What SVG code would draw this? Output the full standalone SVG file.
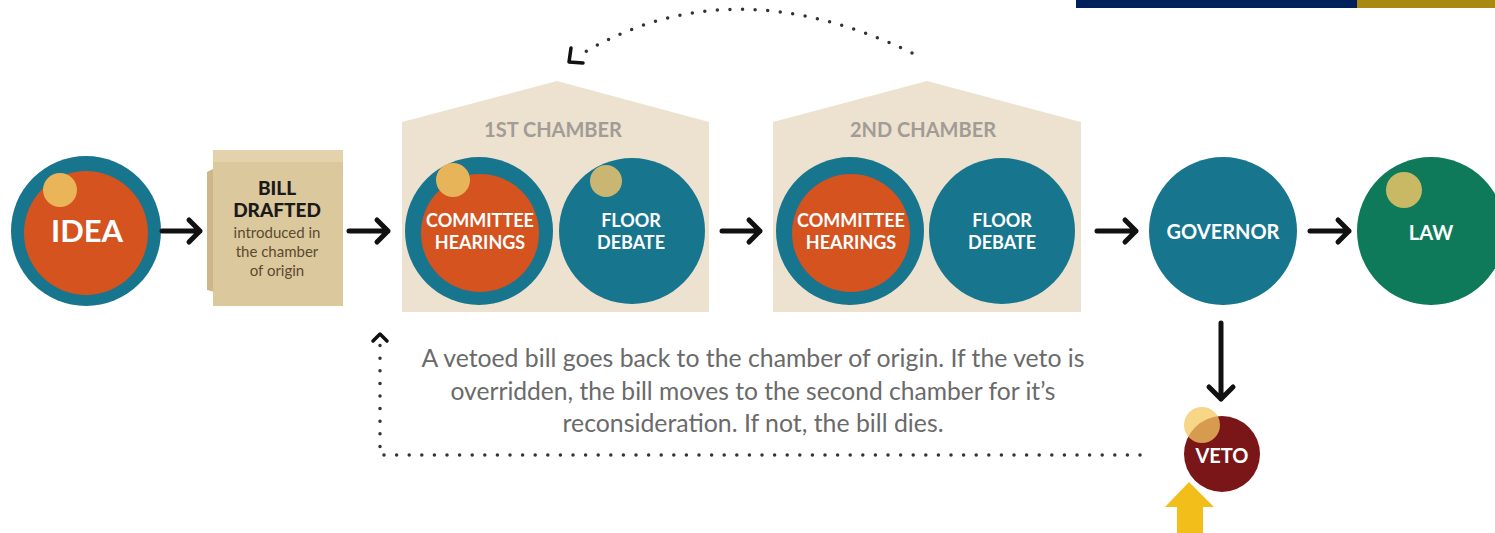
<svg xmlns="http://www.w3.org/2000/svg" width="1495" height="533" viewBox="0 0 1495 533">
<style>
.teal{fill:#17758e}
.orange{fill:#d4531f}
.lbl{font-family:Lato,'Open Sans','Liberation Sans',sans-serif;font-weight:700;fill:#ffffff;text-anchor:middle}
.house{fill:#ece2cf}
.hlbl{font-family:Lato,'Open Sans','Liberation Sans',sans-serif;font-weight:700;fill:#a19c95;font-size:20px;text-anchor:middle}
.arrow{fill:none;stroke:#111;stroke-width:5;stroke-linecap:round;stroke-linejoin:round}
.dots{fill:none;stroke:#333;stroke-width:3.5;stroke-linecap:round;stroke-dasharray:0 12.6}
.para{font-family:Lato,'Open Sans',sans-serif;font-size:25px;fill:#6a6a6a;text-anchor:middle}
.bsm{font-family:Lato,'Open Sans',sans-serif;font-size:15px;fill:#5a4a30;text-anchor:middle}
.bbig{font-family:Lato,'Open Sans',sans-serif;font-weight:900;font-size:19px;fill:#1a1a1a;text-anchor:middle}
</style>
<rect width="1495" height="533" fill="#ffffff"/>
<rect x="1076" y="0" width="281" height="8" fill="#00205b"/>
<rect x="1357" y="0" width="138" height="8" fill="#a88a10"/>

<g id="idea">
<circle cx="86" cy="231" r="75" class="teal"/>
<circle cx="86" cy="233" r="62" class="orange"/>
<circle cx="60" cy="190" r="17" fill="#eab458"/>
<text x="87" y="242" class="lbl" font-size="31">IDEA</text>
</g>

<g id="bill">
<path d="M207,172 L215,168 L215,292 L207,290 Z" fill="#cdb688"/>
<rect x="213" y="150" width="130" height="156" fill="#dcc89d"/>
<rect x="213" y="150" width="130" height="12" fill="#e3d2ab"/>
<text x="277" y="195" class="bbig">BILL</text>
<text x="277" y="217" class="bbig">DRAFTED</text>
<text x="277" y="238" class="bsm">introduced in</text>
<text x="277" y="257" class="bsm">the chamber</text>
<text x="277" y="276" class="bsm">of origin</text>
</g>

<g id="chamber1">
<polygon class="house" points="402,122 557,81 709,122 709,312 402,312"/>
<text x="553" y="137" class="hlbl">1ST CHAMBER</text>
</g>
<g id="committee1">
<circle cx="479" cy="231" r="74" class="teal"/>
<circle cx="480" cy="233" r="59" class="orange"/>
<circle cx="453" cy="180" r="17" fill="#e8b45a"/>
<text x="480" y="227" class="lbl" font-size="18">COMMITTEE</text>
<text x="480" y="249" class="lbl" font-size="18">HEARINGS</text>
</g>
<g id="floor1">
<circle cx="632" cy="231" r="73" class="teal"/>
<circle cx="606" cy="181" r="16" fill="#c8b672"/>
<text x="631" y="227" class="lbl" font-size="18">FLOOR</text>
<text x="631" y="249" class="lbl" font-size="18">DEBATE</text>
</g>

<g id="chamber2">
<polygon class="house" points="773,122 927,81 1081,122 1081,312 773,312"/>
<text x="923" y="137" class="hlbl">2ND CHAMBER</text>
</g>
<g id="committee2">
<circle cx="850" cy="231" r="74" class="teal"/>
<circle cx="851" cy="233" r="59" class="orange"/>
<text x="851" y="227" class="lbl" font-size="18">COMMITTEE</text>
<text x="851" y="249" class="lbl" font-size="18">HEARINGS</text>
</g>
<g id="floor2">
<circle cx="1002" cy="231" r="73" class="teal"/>
<text x="1002" y="227" class="lbl" font-size="18">FLOOR</text>
<text x="1002" y="249" class="lbl" font-size="18">DEBATE</text>
</g>

<g id="governor">
<circle cx="1223" cy="231" r="74" class="teal"/>
<text x="1223" y="239" class="lbl" font-size="20">GOVERNOR</text>
</g>

<g id="law">
<circle cx="1431" cy="231" r="74" fill="#0e7a5a"/>
<circle cx="1404" cy="190" r="18" fill="#c9b964"/>
<text x="1431" y="240" class="lbl" font-size="20">LAW</text>
</g>

<g id="veto">
<circle cx="1222" cy="454" r="38" fill="#7a1518"/>
<circle cx="1202" cy="425" r="18" fill="#f5c860" fill-opacity="0.75"/>
<text x="1222" y="463" class="lbl" font-size="20">VETO</text>
</g>

<g id="note">
<text class="para" x="753" y="367" textLength="663" lengthAdjust="spacingAndGlyphs">A vetoed bill goes back to the chamber of origin. If the veto is</text>
<text class="para" x="753" y="400" textLength="605" lengthAdjust="spacingAndGlyphs">overridden, the bill moves to the second chamber for it’s</text>
<text class="para" x="753" y="432" textLength="381" lengthAdjust="spacingAndGlyphs">reconsideration. If not, the bill dies.</text>
</g>

<g id="connectors">
<path class="arrow" d="M162,231 H200 M189,220 L200,231 L189,242"/>
<path class="arrow" d="M349,231 H388 M377,220 L388,231 L377,242"/>
<path class="arrow" d="M722,231 H760 M749,220 L760,231 L749,242"/>
<path class="arrow" d="M1097,231 H1136 M1125,220 L1136,231 L1125,242"/>
<path class="arrow" d="M1310,231 H1349 M1338,220 L1349,231 L1338,242"/>
<path class="arrow" d="M1221,323 V399 M1209,387 L1221,399 L1233,387"/>
<path class="dots" d="M1140,455 H380 V345"/>
<path fill="none" stroke="#111" stroke-width="3.5" stroke-linecap="round" stroke-linejoin="round" d="M373,341 L380,334 L387,341"/>
<path class="dots" d="M912,53 Q732,-34 585,52"/>
<path fill="none" stroke="#111" stroke-width="3.5" stroke-linecap="round" stroke-linejoin="round" d="M571,48 L569,62 L583,63"/>
<polygon points="1189,482 1214,507 1203,507 1203,533 1177,533 1177,507 1165,507" fill="#f2bf1a"/>
</g>
</svg>
